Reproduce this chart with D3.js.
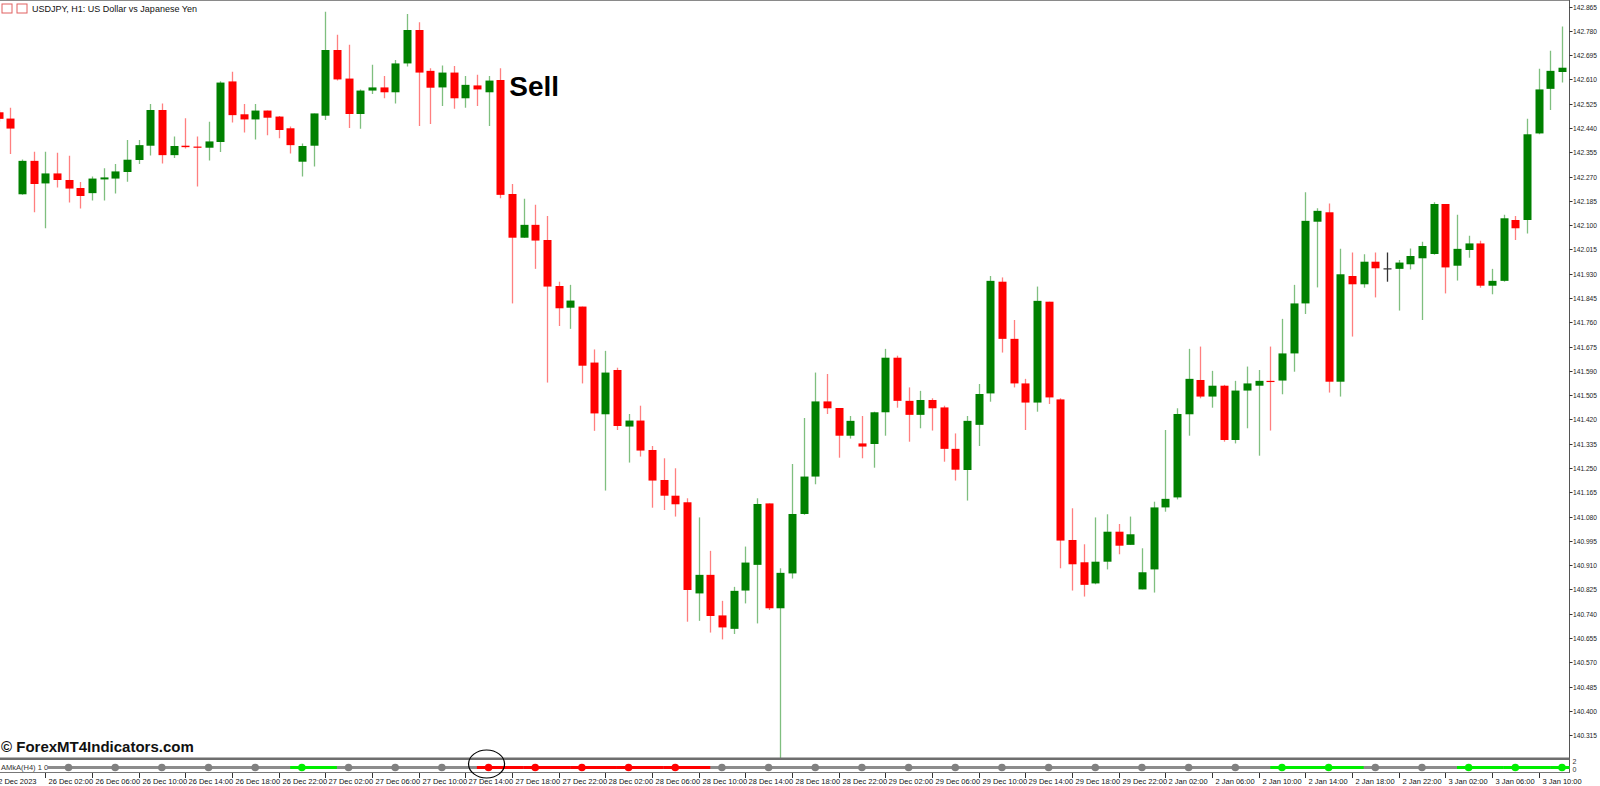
<!DOCTYPE html>
<html>
<head>
<meta charset="utf-8">
<script src="https://cdn.jsdelivr.net/npm/d3@7"></script>
<style>
  body { margin: 0; background: #fff; }
  svg { display: block; font-family: "Liberation Sans", Arial, sans-serif; }
</style>
</head>
<body>
<div id="chart"></div>
<script>
// USDJPY H1 candles
const opens = [142.495,142.473,142.208,142.325,142.246,142.281,142.258,142.230,142.212,142.260,142.263,142.286,142.328,142.378,142.503,142.345,142.378,142.375,142.371,142.391,
  142.603,142.488,142.470,142.501,142.480,142.439,142.322,142.378,142.483,142.713,142.613,142.489,142.571,142.582,142.565,142.666,142.783,142.640,142.582,142.634,
  142.544,142.589,142.565,142.608,142.209,142.056,142.101,142.048,141.887,141.811,141.815,141.619,141.438,141.593,141.395,141.416,141.313,141.208,141.153,141.130,
  140.811,140.876,140.734,140.687,140.821,140.911,141.126,140.759,140.881,141.089,141.220,141.483,141.460,141.363,141.336,141.334,141.445,141.636,141.485,141.436,
  141.488,141.462,141.317,141.243,141.401,141.511,141.902,141.702,141.546,141.479,141.832,141.490,140.998,140.920,140.846,140.922,141.027,140.981,140.825,140.895,
  141.112,141.147,141.438,141.558,141.500,141.538,141.348,141.521,141.538,141.555,141.556,141.651,141.826,142.112,142.145,141.552,141.922,141.893,141.972,141.949,
  141.947,141.963,141.984,141.999,142.174,141.958,142.013,142.036,141.888,141.905,142.118,142.118,142.421,142.577,142.636];
const highs = [142.503,142.511,142.330,142.357,142.357,142.353,142.343,142.251,142.270,142.299,142.314,142.398,142.398,142.524,142.526,142.410,142.474,142.410,142.462,142.604,
  142.637,142.524,142.524,142.501,142.482,142.445,142.386,142.491,142.847,142.766,142.731,142.575,142.661,142.622,142.678,142.839,142.810,142.649,142.659,142.657,
  142.622,142.626,142.622,142.649,142.244,142.192,142.171,142.132,141.902,141.891,141.815,141.665,141.660,141.601,141.439,141.468,141.327,141.284,141.249,141.144,
  141.077,140.960,140.785,140.834,140.975,141.144,141.126,140.899,141.264,141.425,141.584,141.579,141.460,141.432,141.432,141.447,141.667,141.643,141.532,141.520,
  141.494,141.468,141.371,141.432,141.544,141.922,141.917,141.768,141.562,141.885,141.832,141.494,141.109,140.983,141.077,141.088,141.054,141.080,140.969,141.132,
  141.383,141.459,141.667,141.675,141.590,141.541,141.555,141.605,141.593,141.675,141.772,141.891,142.215,142.159,142.176,142.017,142.004,141.998,142.004,142.004,
  141.978,142.018,142.042,142.180,142.174,142.136,142.063,142.045,141.947,142.136,142.132,142.472,142.647,142.710,142.795];
const lows = [142.462,142.349,142.206,142.145,142.089,142.232,142.179,142.158,142.186,142.186,142.211,142.252,142.314,142.344,142.316,142.335,142.368,142.235,142.326,142.356,
  142.459,142.424,142.400,142.415,142.404,142.351,142.270,142.305,142.468,142.606,142.440,142.437,142.559,142.544,142.526,142.655,142.447,142.454,142.517,142.507,
  142.511,142.517,142.447,142.194,141.826,142.056,141.947,141.549,141.747,141.737,141.546,141.380,141.171,141.383,141.269,141.290,141.111,141.103,141.080,140.712,
  140.715,140.674,140.650,140.669,140.776,140.706,140.753,140.211,140.863,141.086,141.193,141.439,141.286,141.353,141.284,141.251,141.363,141.461,141.342,141.389,
  141.381,141.272,141.206,141.136,141.327,141.482,141.654,141.532,141.383,141.447,141.474,140.899,140.821,140.800,140.843,140.895,140.948,140.981,140.825,140.814,
  141.097,141.140,141.363,141.494,141.461,141.342,141.336,141.389,141.293,141.381,141.508,141.587,141.789,141.882,141.514,141.500,141.710,141.881,141.847,141.902,
  141.801,141.945,141.768,141.996,141.861,141.906,141.986,141.881,141.858,141.902,142.048,142.071,142.418,142.503,142.599];
const closes = [142.472,142.438,142.325,142.244,142.281,142.258,142.228,142.202,142.263,142.267,142.288,142.329,142.380,142.503,142.345,142.377,142.373,142.372,142.393,142.599,
  142.485,142.470,142.501,142.476,142.433,142.380,142.377,142.491,142.713,142.610,142.489,142.571,142.582,142.565,142.666,142.783,142.634,142.581,142.634,142.544,
  142.591,142.575,142.606,142.206,142.056,142.101,142.046,141.885,141.809,141.836,141.608,141.441,141.584,141.397,141.416,141.311,141.206,141.153,141.123,140.823,
  140.876,140.732,140.692,140.820,140.919,141.124,140.759,140.883,141.089,141.220,141.483,141.459,141.363,141.415,141.325,141.445,141.636,141.485,141.436,141.488,
  141.459,141.317,141.244,141.415,141.509,141.905,141.702,141.546,141.479,141.835,141.497,140.996,140.913,140.841,140.922,141.027,140.978,141.018,140.885,141.112,
  141.142,141.439,141.562,141.500,141.538,141.348,141.521,141.546,141.555,141.552,141.651,141.826,142.115,142.150,141.552,141.928,141.893,141.972,141.949,141.949,
  141.969,141.992,142.027,142.174,141.952,142.017,142.036,141.888,141.905,142.124,142.089,142.418,142.575,142.640,142.651];

// AMkA(H4) state per H4 bar: 0 none, 1 buy, -1 sell (one dot every 4 H1 bars, from bar 6)
const amkaState = [0,0,0,0,0,1,0,0,0,-1,-1,-1,-1,-1,0,0,0,0,0,0,0,0,0,0,0,0,1,1,0,0,1,1,1];

const priceTicks = [140.315,140.400,140.485,140.570,140.655,140.740,140.825,140.910,140.995,141.080,141.165,141.250,141.335,141.420,141.505,
  141.590,141.675,141.760,141.845,141.930,142.015,142.100,142.185,142.270,142.355,142.440,142.525,142.610,142.695,142.780,142.865];

const timeLabels = ["26 Dec 02:00","26 Dec 06:00","26 Dec 10:00","26 Dec 14:00","26 Dec 18:00","26 Dec 22:00",
  "27 Dec 02:00","27 Dec 06:00","27 Dec 10:00","27 Dec 14:00","27 Dec 18:00","27 Dec 22:00",
  "28 Dec 02:00","28 Dec 06:00","28 Dec 10:00","28 Dec 14:00","28 Dec 18:00","28 Dec 22:00",
  "29 Dec 02:00","29 Dec 06:00","29 Dec 10:00","29 Dec 14:00","29 Dec 18:00","29 Dec 22:00",
  "2 Jan 02:00","2 Jan 06:00","2 Jan 10:00","2 Jan 14:00","2 Jan 18:00","2 Jan 22:00",
  "3 Jan 02:00","3 Jan 06:00","3 Jan 10:00"];

const width = 1600, height = 786;
const axisX = 1569.5;
const n = opens.length;

const svg = d3.select("#chart").append("svg")
    .attr("width", width).attr("height", height);

const x = d3.scaleLinear().domain([0, n - 1]).range([-1.5, 1562]);
const y = d3.scaleLinear().domain([142.888, 140.299]).range([0, 739.7]);

const GREEN = "#008000", RED = "#ff0000";

// frame
svg.append("line").attr("x1", 0).attr("x2", axisX).attr("y1", 0.5).attr("y2", 0.5)
    .attr("stroke", "#8a8a8a");
svg.append("line").attr("x1", axisX).attr("x2", axisX).attr("y1", 0).attr("y2", 773)
    .attr("stroke", "#555");

// candles
svg.append("clipPath").attr("id", "clipMain").append("rect")
    .attr("x", 0).attr("y", 1).attr("width", axisX).attr("height", 757);
const main = svg.append("g").attr("clip-path", "url(#clipMain)");

const idx = d3.range(n);
const colorOf = i => closes[i] > opens[i] ? GREEN : (closes[i] < opens[i] ? RED : "#333");

main.selectAll(".wick").data(idx).enter().append("line")
    .attr("class", "wick")
    .attr("x1", i => Math.round(x(i)) + 0.5).attr("x2", i => Math.round(x(i)) + 0.5)
    .attr("y1", i => y(highs[i])).attr("y2", i => y(lows[i]))
    .attr("stroke", colorOf)
    .attr("stroke-opacity", i => colorOf(i) === "#333" ? 1 : 0.5)
    .attr("stroke-width", 1.3);

main.selectAll(".body").data(idx).enter().append("rect")
    .attr("class", "body")
    .attr("x", i => Math.round(x(i)) - 3.5)
    .attr("width", 8)
    .attr("y", i => y(Math.max(opens[i], closes[i])))
    .attr("height", i => Math.max(1.2, Math.abs(y(opens[i]) - y(closes[i]))))
    .attr("fill", colorOf);

// price axis
const yAxis = svg.append("g");
priceTicks.forEach(p => {
  yAxis.append("line").attr("x1", axisX).attr("x2", axisX + 3)
      .attr("y1", Math.round(y(p)) + 0.5).attr("y2", Math.round(y(p)) + 0.5).attr("stroke", "#333");
  yAxis.append("text").attr("x", axisX + 3.5).attr("y", y(p) + 3)
      .style("font-size", "7.5px").attr("fill", "#222")
      .attr("textLength", 24).attr("lengthAdjust", "spacingAndGlyphs")
      .text(p.toFixed(3));
});

// title
svg.append("rect").attr("x", 2).attr("y", 4).attr("width", 10).attr("height", 9)
    .attr("fill", "#fff").attr("stroke", "#e06060");
svg.append("rect").attr("x", 17).attr("y", 4).attr("width", 10).attr("height", 9)
    .attr("fill", "#fff").attr("stroke", "#e06060");
svg.append("text").attr("x", 32).attr("y", 11.5)
    .style("font-size", "9px").attr("fill", "#111")
    .text("USDJPY, H1:  US Dollar vs Japanese Yen");

// Sell annotation
svg.append("text").attr("x", x(43) + 9).attr("y", 96)
    .style("font-size", "28px").style("font-weight", "bold").attr("fill", "#000")
    .text("Sell");

// watermark
svg.append("text").attr("x", 1).attr("y", 752)
    .style("font-size", "15px").style("font-weight", "bold").attr("fill", "#111")
    .text("© ForexMT4Indicators.com");

// indicator panel
const panelTop = 759, dotY = 767.5;
svg.append("rect").attr("x", 0).attr("y", panelTop - 1.5).attr("width", axisX).attr("height", 2.5)
    .attr("fill", "#6e6e6e");
svg.append("line").attr("x1", 0).attr("x2", axisX).attr("y1", 772.5).attr("y2", 772.5)
    .attr("stroke", "#777");
svg.append("text").attr("x", 1).attr("y", 770)
    .style("font-size", "7.5px").attr("fill", "#333").text("AMkA(H4) 1 0");
svg.append("line").attr("x1", 48).attr("x2", axisX).attr("y1", dotY).attr("y2", dotY)
    .attr("stroke", "#8c8c8c").attr("stroke-width", 3);

const dotIdx = amkaState.map((s, k) => 6 + 4 * k);
const stateColor = s => s === 1 ? "#00ee00" : (s === -1 ? RED : "#808080");
amkaState.forEach((s, k) => {
  if (s === 0) return;
  const i = dotIdx[k];
  svg.append("line").attr("x1", x(i - 1)).attr("x2", Math.min(x(i + 3), axisX))
      .attr("y1", dotY).attr("y2", dotY).attr("stroke", stateColor(s)).attr("stroke-width", 3);
});
svg.selectAll(".dot").data(amkaState).enter().append("circle")
    .attr("class", "dot")
    .attr("cx", (s, k) => x(dotIdx[k])).attr("cy", dotY).attr("r", 3.8)
    .attr("fill", stateColor);

// highlight circle on first sell dot
svg.append("ellipse").attr("cx", x(42) - 2).attr("cy", 764).attr("rx", 18).attr("ry", 14)
    .attr("fill", "none").attr("stroke", "#000").attr("stroke-width", 1.2);

svg.append("text").attr("x", axisX + 3).attr("y", 764).style("font-size", "7px").attr("fill", "#333").text("2");
svg.append("text").attr("x", axisX + 3).attr("y", 772).style("font-size", "7px").attr("fill", "#333").text("0");

// time axis
svg.append("text").attr("x", -6).attr("y", 784).style("font-size", "7.5px").attr("fill", "#111").text("22 Dec 2023");
timeLabels.forEach((t, k) => {
  const tx = Math.round(x(4 + 4 * k)) + 0.5;
  svg.append("line").attr("x1", tx).attr("x2", tx).attr("y1", 773).attr("y2", 778).attr("stroke", "#333");
  svg.append("text").attr("x", tx + 3).attr("y", 784)
      .style("font-size", "7.5px").attr("fill", "#111").text(t);
});
</script>
</body>
</html>
